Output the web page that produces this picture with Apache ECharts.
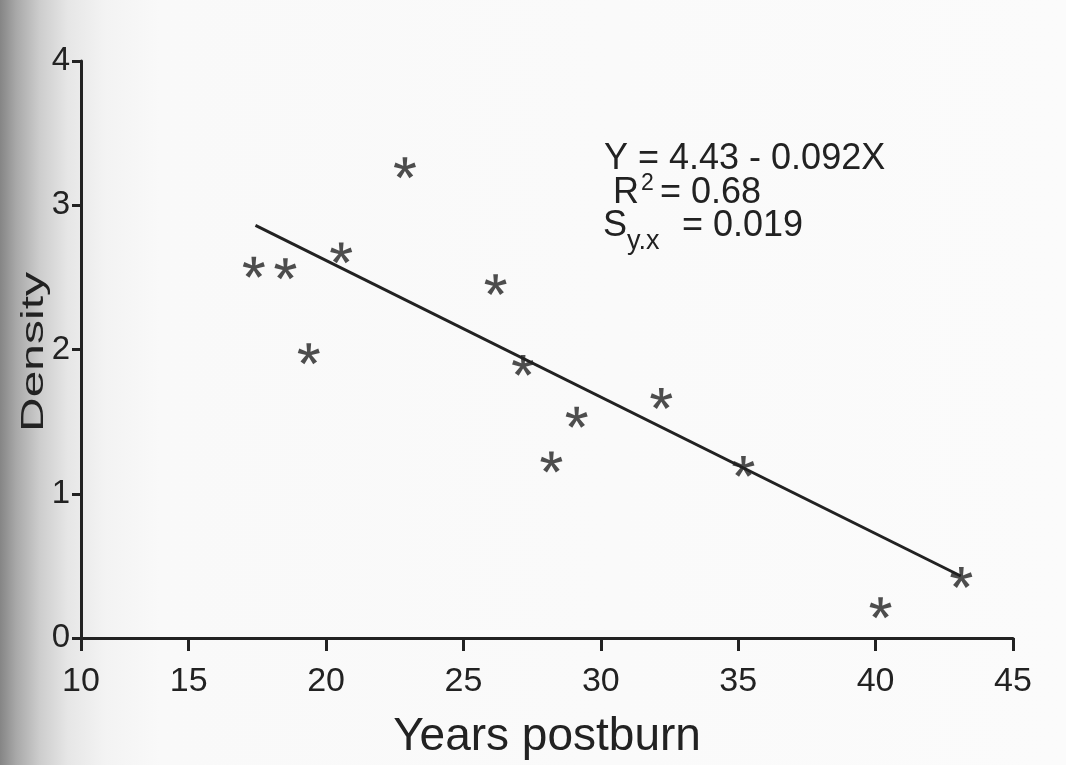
<!DOCTYPE html>
<html>
<head>
<meta charset="utf-8">
<title>Density vs years postburn</title>
<script src="https://cdn.jsdelivr.net/npm/echarts@6/dist/echarts.min.js"></script>
<style>
  html, body { margin: 0; padding: 0; }
  body {
    width: 1066px; height: 765px; overflow: hidden;
    /* scanned page: dark shading along the binding on the left */
    background: linear-gradient(to right, #858585 0px, #a8a8a8 16px, #cdcdcd 40px, #e6e6e6 68px, #f3f3f3 105px, #f9f9f9 160px, #fbfbfb 100%);
  }
  #chart { width: 1066px; height: 765px; }
</style>
</head>
<body>
<div id="chart"></div>
<script>
// data
var years   = [17.37, 18.52, 20.55, 22.87, 19.37, 26.17, 27.17, 29.12, 28.20, 32.20, 35.19, 43.12, 40.18];
var density = [2.57, 2.56, 2.67, 3.26, 1.97, 2.45, 1.89, 1.53, 1.22, 1.66, 1.19, 0.42, 0.21];

// regression line end points (as drawn)
var fitYears   = [17.43, 43.1];
var fitDensity = [2.86, 0.43];

// the axis starts a bit above 10 but the first label says 10
var xTickValues = [11.08, 15, 20, 25, 30, 35, 40, 45];
var xTickLabels = ['10', '15', '20', '25', '30', '35', '40', '45'];
var yTickValues = [0, 1, 2, 3, 4];

var ink = '#222222';
var font = "'Liberation Sans', Arial, Helvetica, sans-serif";

// 5 armed asterisk like the typeset "*"
function asteriskPath() {
  var d = '';
  for (var i = 0; i < 5; i++) {
    var a = (-90 + i * 72) * Math.PI / 180;
    var cx = Math.cos(a), cy = Math.sin(a);
    var px = -cy, py = cx;
    var pts = [
      [px * 14, py * 14],
      [cx * 100 + px * 22, cy * 100 + py * 22],
      [cx * 100 - px * 22, cy * 100 - py * 22],
      [-px * 14, -py * 14]
    ];
    d += 'M' + pts.map(function (p) { return p[0].toFixed(1) + ' ' + p[1].toFixed(1); }).join(' L') + ' Z ';
  }
  return 'path://' + d;
}

var points = years.map(function (x, i) { return [x, density[i]]; });
var fitLine = fitYears.map(function (x, i) { return [x, fitDensity[i]]; });

var myChart = echarts.init(document.getElementById('chart'));

var option = {
  backgroundColor: 'transparent',
  animation: false,
  grid: { left: 81, right: 53, top: 61, bottom: 123 },
  xAxis: {
    type: 'value',
    min: xTickValues[0],
    max: 45,
    name: 'Years postburn',
    nameLocation: 'middle',
    nameGap: 76,
    nameTextStyle: { fontFamily: font, fontSize: 46, color: ink },
    splitLine: { show: false },
    axisLine: { onZero: false, lineStyle: { color: ink, width: 3 } },
    axisTick: { customValues: xTickValues, length: 13, lineStyle: { color: ink, width: 3 } },
    axisLabel: {
      customValues: xTickValues,
      margin: 27,
      fontFamily: font, fontSize: 34, color: ink,
      formatter: function (v) {
        var i = xTickValues.indexOf(v);
        return i >= 0 ? xTickLabels[i] : '';
      }
    }
  },
  yAxis: {
    type: 'value',
    min: 0,
    max: 4,
    interval: 1,
    splitLine: { show: false },
    axisLine: { onZero: false, lineStyle: { color: ink, width: 3 } },
    axisTick: { customValues: yTickValues, length: 9, lineStyle: { color: ink, width: 3 } },
    axisLabel: { customValues: yTickValues, margin: 11, fontFamily: font, fontSize: 33, color: ink }
  },
  graphic: [
    { // stretched y axis title
      type: 'text', x: 34, y: 352, rotation: Math.PI / 2, scaleX: 1.5,
      style: { text: 'Density', font: '32px ' + font, fill: ink, align: 'center', verticalAlign: 'middle' }
    },
    { type: 'text', x: 604, y: 159, style: { text: 'Y = 4.43 - 0.092X', font: '36px ' + font, fill: ink, verticalAlign: 'middle' } },
    { type: 'text', x: 613, y: 193, style: { text: 'R', font: '36px ' + font, fill: ink, verticalAlign: 'middle' } },
    { type: 'text', x: 641, y: 184, style: { text: '2', font: '23px ' + font, fill: ink, verticalAlign: 'middle' } },
    { type: 'text', x: 660, y: 193, style: { text: '= 0.68', font: '36px ' + font, fill: ink, verticalAlign: 'middle' } },
    { type: 'text', x: 603, y: 226, style: { text: 'S', font: '36px ' + font, fill: ink, verticalAlign: 'middle' } },
    { type: 'text', x: 627, y: 242, style: { text: 'y.x', font: '27px ' + font, fill: ink, verticalAlign: 'middle' } },
    { type: 'text', x: 682, y: 226, style: { text: '= 0.019', font: '36px ' + font, fill: ink, verticalAlign: 'middle' } }
  ],
  series: [
    {
      name: 'fit',
      type: 'line',
      data: fitLine,
      showSymbol: false,
      lineStyle: { color: ink, width: 3 },
      silent: true
    },
    {
      name: 'stands',
      type: 'scatter',
      data: points,
      symbol: asteriskPath(),
      symbolSize: 22,
      symbolKeepAspect: true,
      itemStyle: { color: ink }
    }
  ]
};

myChart.setOption(option);
</script>
</body>
</html>
